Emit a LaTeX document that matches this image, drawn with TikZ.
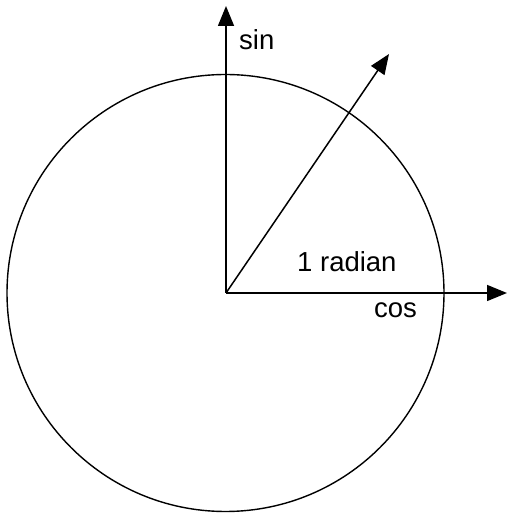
\documentclass[tikz,border=0pt]{standalone}
\usepackage{fontspec}
\setmainfont{Liberation Sans}
\usetikzlibrary{arrows.meta}
\begin{document}
\begin{tikzpicture}[x=1pt,y=1pt,
  axis/.style={line width=1.5pt,-{Triangle[length=20pt,width=16pt]}},
  lbl/.style={anchor=base west,inner sep=0pt,font=\fontsize{27.5}{32}\selectfont}]
\useasboundingbox (0,0) rectangle (509,514);
\coordinate (O) at (226,221);
\coordinate (C) at (225.5,221);
\coordinate (ytip) at (226,508);
\coordinate (xtip) at (507,221);
\coordinate (rtip) at (389,460);
\draw[line width=1.4pt] (C) circle[radius=218.5];
\draw[axis] (O) -- (ytip);
\draw[axis] (O) -- (xtip);
\draw[axis] (O) -- (rtip);
\node[lbl] (sin) at (239,464) {sin};
\node[lbl] (rad) at (297,242) {1 radian};
\node[lbl] (cos) at (374,196) {cos};
\end{tikzpicture}
\end{document}
